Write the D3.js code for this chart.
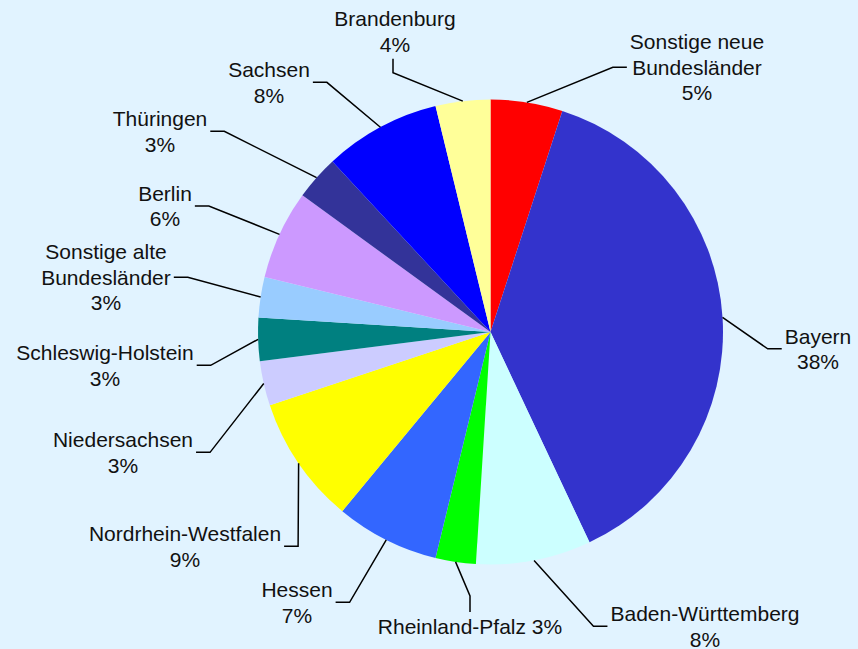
<!DOCTYPE html>
<html>
<head>
<meta charset="utf-8">
<script src="https://cdn.jsdelivr.net/npm/d3@7"></script>
<style>
  body { margin: 0; background: #e1f3ff; }
  svg { display: block; }
</style>
</head>
<body>
<svg id="pie-chart" width="858" height="649"></svg>
<script>
// Anteile je Bundesland (im Uhrzeigersinn ab 12 Uhr)
const names = [
    'Sonstige neue\nBundesländer', 'Bayern', 'Baden-Württemberg', 'Rheinland-Pfalz',
    'Hessen', 'Nordrhein-Westfalen', 'Niedersachsen', 'Schleswig-Holstein',
    'Sonstige alte\nBundesländer', 'Berlin', 'Thüringen', 'Sachsen', 'Brandenburg'
];
const values = [5.0, 38.0, 8.0, 2.8, 7.2, 8.9, 3.1, 3.0, 2.8, 6.2, 3.1, 8.1, 3.8];
const colors = [
    '#ff0000', '#3333cc', '#ccffff', '#00ff00', '#3366ff', '#ffff00', '#ccccff',
    '#008080', '#99ccff', '#cc99ff', '#333399', '#0000ff', '#ffff99'
];

// Lage der Beschriftungen (Mitte x, erste Grundlinie y) und Seite der Führungslinie
const labelX = [697, 818, 705, 470, 297, 185, 123, 105, 106, 165, 160, 269, 395];
const labelY = [49, 343.5, 621, 634, 597, 541, 447, 360, 259, 200.7, 126, 77, 26];
const labelSide = ['right', 'right', 'right', 'below', 'left', 'left', 'left',
    'left', 'left', 'left', 'left', 'left', 'above'];

const svg = d3.select('#pie-chart');
const cx = 490.5, cy = 332, radius = 232.5;
const lineHeight = 25.7;

svg.append('rect')
    .attr('width', 858)
    .attr('height', 649)
    .attr('fill', '#e1f3ff');

const pie = d3.pie().sort(null).value(d => d.value);
const arcs = pie(values.map((v, i) => ({ value: v, i: i })));

const arc = d3.arc().innerRadius(0).outerRadius(radius);
const edgeArc = d3.arc().innerRadius(radius).outerRadius(radius);

const chart = svg.append('g').attr('transform', `translate(${cx},${cy})`);

chart.selectAll('path.slice')
    .data(arcs)
    .join('path')
    .attr('class', 'slice')
    .attr('d', arc)
    .attr('fill', d => colors[d.data.i]);

// Beschriftungen
const labels = svg.selectAll('g.label')
    .data(arcs)
    .join('g')
    .attr('class', 'label');

labels.each(function (d) {
    const i = d.data.i;
    const pct = Math.round(values[i]) + '%';
    let lines = names[i].split('\n');
    if (labelSide[i] === 'below') {
        lines[lines.length - 1] += ' ' + pct;
    } else {
        lines.push(pct);
    }
    const text = d3.select(this).append('text')
        .attr('font-family', 'Liberation Sans, Arial, sans-serif')
        .attr('font-size', 21)
        .attr('fill', '#111')
        .attr('text-anchor', 'middle');
    lines.forEach((ln, k) => {
        text.append('tspan')
            .attr('x', labelX[i])
            .attr('y', labelY[i] + k * lineHeight)
            .text(ln);
    });
});

// Führungslinien
const gap = 3, seg = 14;
labels.each(function (d) {
    const i = d.data.i;
    const box = this.getBBox();
    const start = edgeArc.centroid(d).map((v, k) => v + (k === 0 ? cx : cy));
    let end, elbow;
    if (labelSide[i] === 'left') {
        end = [box.x + box.width + gap, box.y + box.height / 2];
        elbow = [end[0] + seg, end[1]];
    } else if (labelSide[i] === 'right') {
        end = [box.x - gap, box.y + box.height / 2];
        elbow = [end[0] - seg, end[1]];
    } else if (labelSide[i] === 'below') {
        end = [labelX[i], box.y - gap];
        elbow = [end[0], end[1] - 16];
    } else {
        end = [labelX[i] - 2, box.y + box.height + gap];
        elbow = [end[0], end[1] + 14];
    }
    svg.append('path')
        .attr('d', d3.line()([start, elbow, end]))
        .attr('fill', 'none')
        .attr('stroke', '#000')
        .attr('stroke-width', 1.5);
});
</script>
</body>
</html>
